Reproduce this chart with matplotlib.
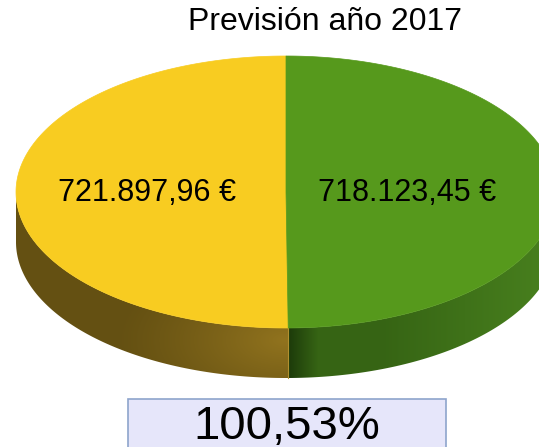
"""
Previsión año 2017 - 3D pie chart with ratio box.
"""

import matplotlib.pyplot as plt
import numpy as np
from matplotlib.patches import Polygon, Rectangle

plt.rcParams['font.family'] = ['Liberation Sans', 'DejaVu Sans']

title = "Previsión año 2017"
labels = ["721.897,96 €", "718.123,45 €"]
values = [721897.96, 718123.45]
colors_top = ["#f8cc21", "#56991c"]
ratio_text = "100,53%"

W, H = 539, 447
fig = plt.figure(figsize=(W / 100, H / 100), dpi=100)
ax = fig.add_axes([0, 0, 1, 1])
ax.set_xlim(0, W)
ax.set_ylim(H, 0)
ax.axis("off")

# pie geometry in pixels
cx, cy, a, b, depth = 286, 192, 270, 136, 50


def edge(t):
    return cx + a * np.cos(t), cy - b * np.sin(t)


fracs = np.array(values) / sum(values)
starts = np.pi / 2 + np.concatenate([[0], np.cumsum(fracs)[:-1]]) * 2 * np.pi
ends = starts + fracs * 2 * np.pi

yy, xx = np.mgrid[0:H, 0:W] + 0.5


def side_yellow(x, y):
    base = np.array([100, 80, 18])
    light = np.array([145, 115, 30])
    d = np.clip(1 - np.hypot((x - 285) / 170, (y - 340) / 90), 0, 1)
    return base + (light - base) * d[..., None] ** 1.2


def side_green(x, y):
    dark = np.array([28, 58, 10])
    mid = np.array([54, 100, 20])
    right = np.array([72, 128, 30])
    u = np.clip((x - 288) / 30, 0, 1)[..., None]
    v = np.clip((x - 380) / 170, 0, 1)[..., None]
    return dark + (mid - dark) * u + (right - mid) * v


shaders = [side_yellow, side_green]

# side walls (front half only)
for s, e, shade in zip(starts, ends, shaders):
    lo = max(s, np.pi)
    hi = min(e, 2 * np.pi)
    if lo >= hi:
        continue
    t = np.linspace(lo, hi, 200)
    ex, ey = edge(t)
    pts = np.vstack([np.column_stack([ex, ey]),
                     np.column_stack([ex[::-1], ey[::-1] + depth])])
    poly = Polygon(pts, closed=True, facecolor="none", edgecolor="none")
    ax.add_patch(poly)
    img = np.clip(shade(xx, yy), 0, 255).astype(np.uint8)
    im = ax.imshow(img, extent=(0, W, H, 0), zorder=1, interpolation="bilinear")
    im.set_clip_path(poly)

# split line on the front wall
t_split = ends[0]
sx, sy = edge(t_split)
ax.plot([sx, sx], [sy, sy + depth], color="#b09030", lw=0.8, zorder=2)

# top faces
for s, e, c in zip(starts, ends, colors_top):
    t = np.linspace(s, e, 300)
    ex, ey = edge(t)
    pts = np.vstack([[cx, cy], np.column_stack([ex, ey])])
    ax.add_patch(Polygon(pts, closed=True, facecolor=c, edgecolor=c,
                         lw=0.5, zorder=3))

# value labels
for lab, x in zip(labels, [147, 407]):
    ax.text(x, 193, lab, ha="center", va="center", fontsize=22, zorder=5)

ax.text(325, 22, title, ha="center", va="center", fontsize=23)

# ratio box
ax.add_patch(Rectangle((128, 399), 318, 60, facecolor="#e6e6fa",
                       edgecolor="#8ea4cc", lw=1.2, zorder=4))
ax.text(287, 427, ratio_text, ha="center", va="center", fontsize=34, zorder=5)

fig.savefig("out.png", dpi=100)
